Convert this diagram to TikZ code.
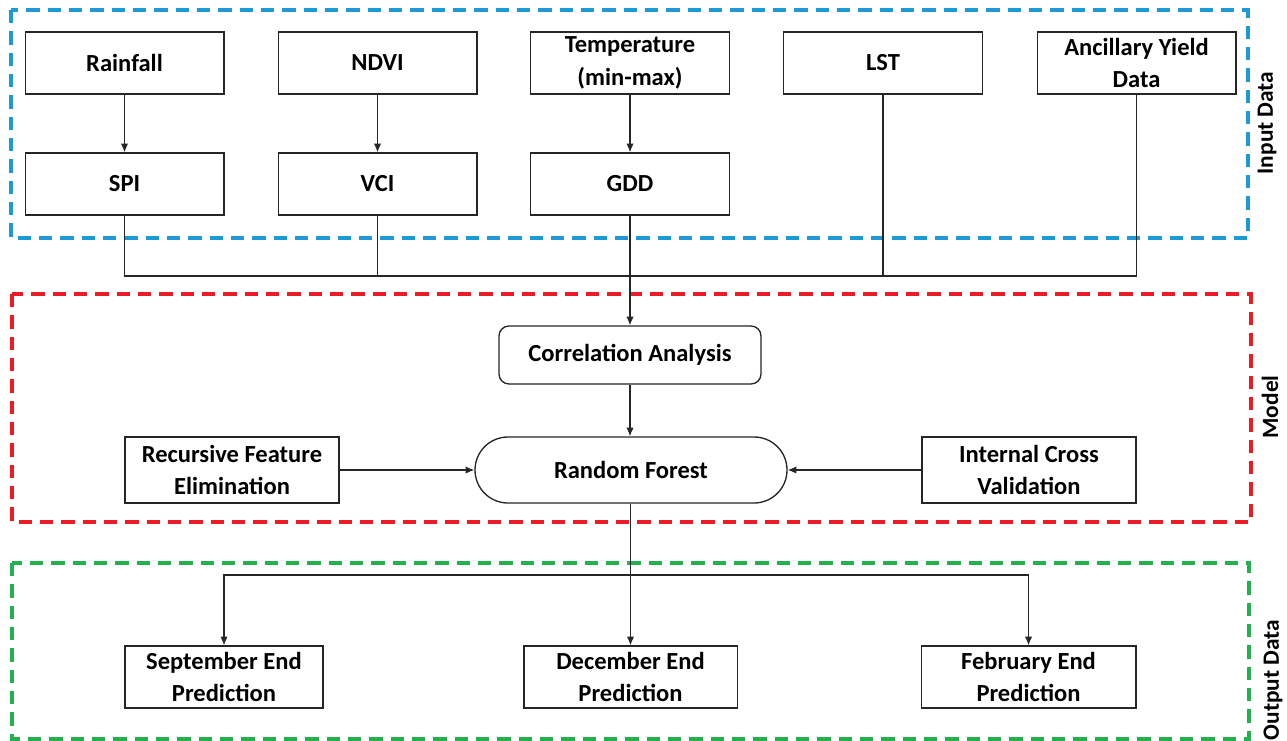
\documentclass[tikz,border=0pt]{standalone}
\usepackage{fontspec}
\setmainfont{Carlito}
\usepackage{tikz}
\usepackage{xcolor}
\usetikzlibrary{arrows.meta}
\definecolor{inblue}{RGB}{27,154,214}
\definecolor{modred}{RGB}{237,28,36}
\definecolor{outgreen}{RGB}{34,177,76}
\begin{document}
\begin{tikzpicture}[x=0.75pt,y=0.75pt,yscale=-1,xscale=1,
	databox/.style={draw=black!85,line width=1pt,fill=white,align=center,inner sep=0pt,minimum width=149pt,minimum height=46.5pt,font=\bfseries\fontsize{18.4}{24.5}\selectfont},
	roundbox/.style={databox,rounded corners=7.5pt,minimum width=196.5pt,minimum height=43.5pt},
	pillbox/.style={databox,rounded corners=24.7pt,minimum width=234pt,minimum height=49.5pt},
	wideox/.style={databox,minimum width=160.5pt,minimum height=49.5pt},
	frame/.style={line width=2.7pt,dash pattern=on 10pt off 6pt},
	sidelabel/.style={rotate=90,inner sep=0pt,font=\bfseries\fontsize{17.5}{20}\selectfont},
	link/.style={draw=black!85,line width=0.9pt},
	arr/.style={link,-{Latex[length=6.5pt,width=5.5pt]}}]
				\useasboundingbox (0,0) rectangle (1287,741);
				\draw[frame,inblue]    (11,10) rectangle (1248,238) ;
				\draw[frame,modred]    (12,294) rectangle (1251,522) ;
				\draw[frame,outgreen]  (12,563) rectangle (1249,739) ;
				\node (rain) at (124.5,63) [databox] {Rainfall};
				\node (ndvi) at (377.5,63) [databox] {NDVI};
				\node (temp) at (630,63) [databox] {Temperature\\(min-max)};
				\node (lst) at (883,63) [databox] {LST};
				\node (anc) at (1136.5,63) [databox] {Ancillary Yield\\Data};
				\node (spi) at (124.5,184) [databox] {SPI};
				\node (vci) at (377.5,184) [databox] {VCI};
				\node (gdd) at (630,184) [databox] {GDD};
				\node (corr) at (630,355) [roundbox] {Correlation Analysis};
				\node (rf) at (631,470) [pillbox] {Random Forest};
				\node (rfe) at (232,470) [wideox] {Recursive Feature\\Elimination};
				\node (icv) at (1029,470) [wideox] {Internal Cross\\Validation};
				\node (sep) at (224,677) [databox,minimum width=148.5pt] {September End\\Prediction};
				\node (dec) at (630.5,677) [databox,minimum width=160pt] {December End\\Prediction};
				\node (feb) at (1028.5,677) [databox,minimum width=161pt] {February End\\Prediction};
				\node (inlab) at (1267,123) [sidelabel] {Input Data};
				\node (modlab) at (1270,407) [sidelabel] {Model};
				\node (outlab) at (1273,680) [sidelabel] {Output Data};
				\coordinate (bus) at (630,276);
				\coordinate (obus) at (630,575);
				\draw[arr] (rain) -- (spi);
				\draw[arr] (ndvi) -- (vci);
				\draw[arr] (temp) -- (gdd);
				\draw[link] (spi.south) -- (spi.south |- bus) -- (anc.south |- bus) -- (anc.south);
				\draw[link] (vci.south) -- (vci.south |- bus);
				\draw[link] (lst.south) -- (lst.south |- bus);
				\draw[arr] (gdd.south) -- (corr.north);
				\draw[arr] (corr) -- (corr.south |- rf.north);
				\draw[arr] (rfe) -- (rf);
				\draw[arr] (icv) -- (rf);
				\draw[arr] (rf.south -| dec.north) -- (dec.north);
				\draw[arr] (obus) -| (sep.north);
				\draw[arr] (obus) -| (feb.north);
			\end{tikzpicture}
\end{document}
